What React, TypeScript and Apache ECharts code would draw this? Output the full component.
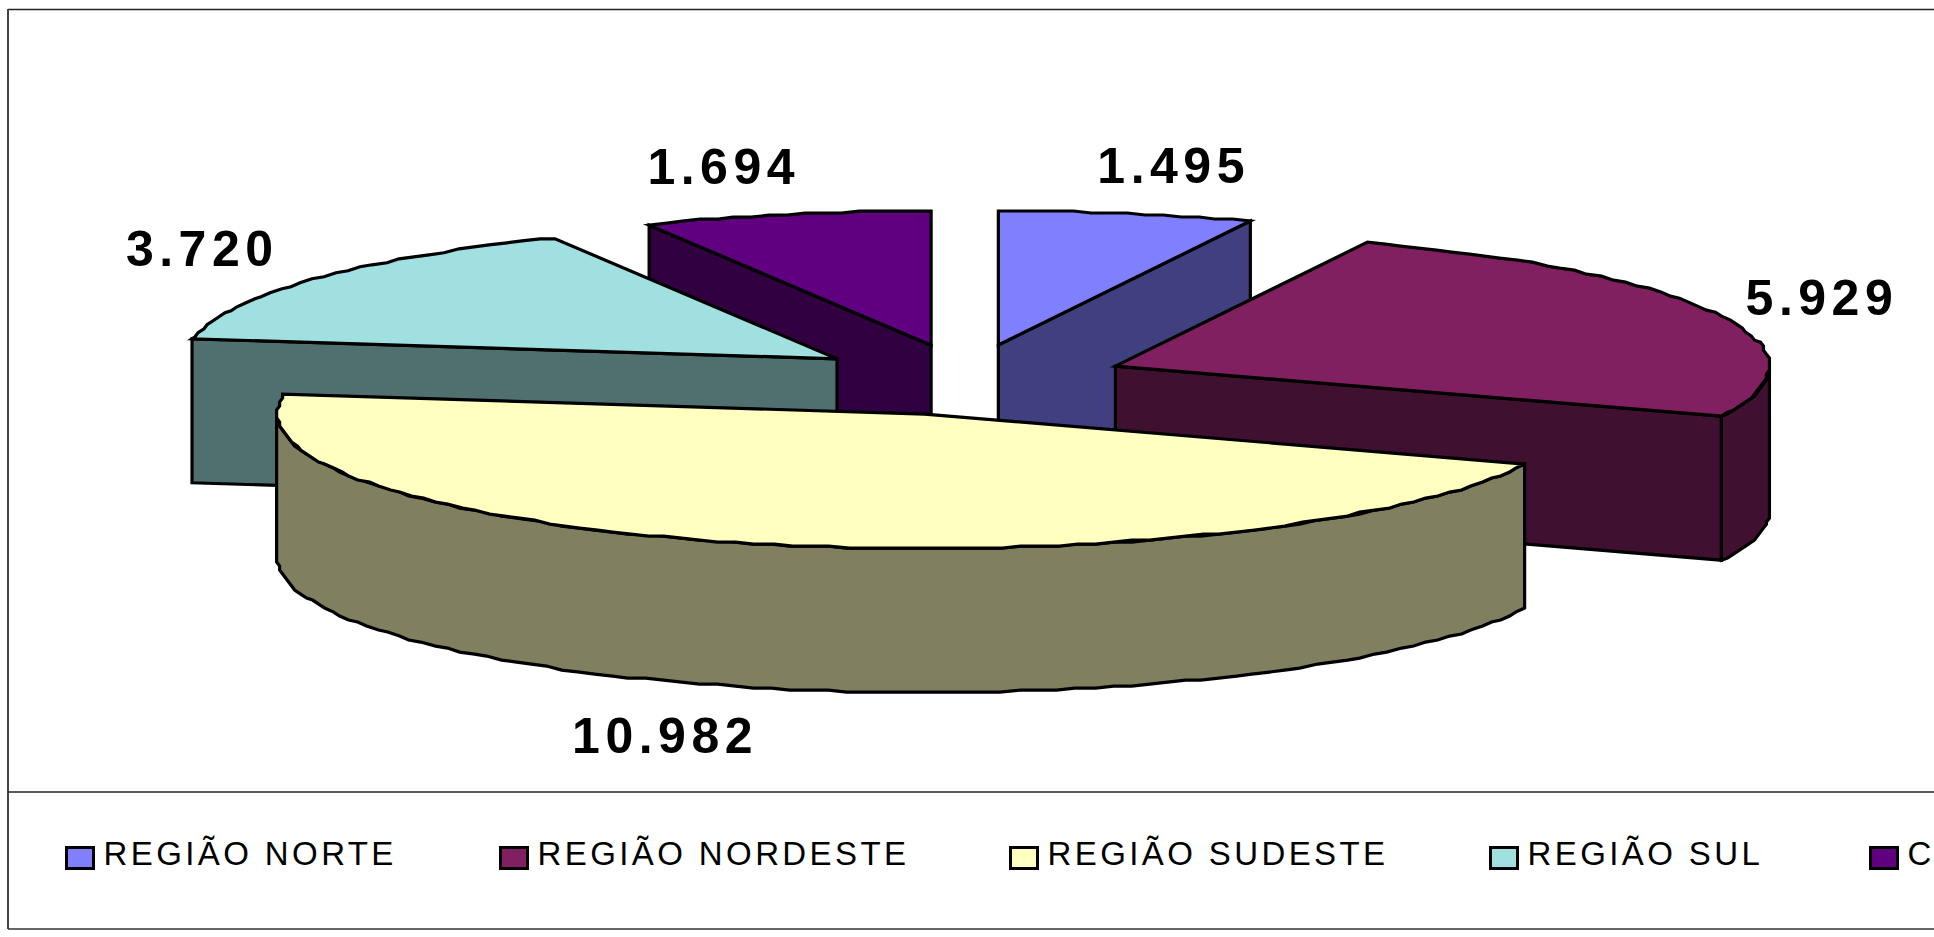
import React, { useEffect, useRef } from "react";
import * as echarts from "echarts";

// ---- data ----
const regions = ["REGIÃO NORTE", "REGIÃO NORDESTE", "REGIÃO SUDESTE", "REGIÃO SUL", "CENTRO-OESTE"];
const values = [1495, 5929, 10982, 3720, 1694];

// ---- styling ----
const topColors = ["#8080FF", "#802060", "#FFFFC0", "#A0E0E0", "#600080"];
const sideColors = ["#404080", "#401030", "#808060", "#507070", "#300040"];
const paintOrder = [1, 3, 5, 4, 2]; // back to front
const radiusScale = [1, 0.998, 0.988, 0.994, 0.995];
const labelNudges = [[47, -48], [103, -17], [-90, 193], [-110, -30], [-63, -48]];
const legendLefts = [65, 499, 1009, 1489, 1869];

const CX = 966.8, CY = 379.8, RX = 655, RY = 134, DEPTH = 144;
const EXPLODE_X = 161, EXPLODE_Y = 35.5;
const GRID_X = 3, GRID_Y = 2, ARC_STEP = 1.7;
const FONT = '"Liberation Sans", Arial, sans-serif';

const total = values.reduce((s, v) => s + v, 0);
const rad = (d: number) => (d * Math.PI) / 180;
const fmt = (v: number) => String(v).replace(/\B(?=(\d{3})+(?!\d))/g, ".");

function sliceRender(index: number) {
  const before = values.slice(0, index).reduce((s, v) => s + v, 0);
  return (_params: any, api: any) => {
    const value = api.value(0) as number;
    const a = (before / total) * 360;
    const b = ((before + value) / total) * 360;
    const mid = (a + b) / 2;
    const ax = CX + EXPLODE_X * Math.sin(rad(mid));
    const ay = CY - EXPLODE_Y * Math.cos(rad(mid));
    const rx = RX * radiusScale[index];
    const rim = (deg: number, dz = 0): number[] => [
      ax + Math.round((rx * Math.sin(rad(deg))) / GRID_X) * GRID_X,
      ay - Math.round((RY * Math.cos(rad(deg))) / GRID_Y) * GRID_Y + dz,
    ];
    const arc = (from: number, to: number, dz = 0) => {
      const pts: number[][] = [];
      const n = Math.max(1, Math.ceil((to - from) / ARC_STEP));
      for (let i = 0; i <= n; i++) pts.push(rim(from + ((to - from) * i) / n, dz));
      return pts;
    };
    const poly = (points: number[][], fill: string) => ({
      type: "polygon",
      shape: { points },
      style: { fill, stroke: "#000", lineWidth: 3.2, lineJoin: "miter" },
    });
    const children: any[] = [];
    const side = sideColors[index];
    if (Math.sin(rad(a)) < -1e-6) {
      children.push(poly([[ax, ay], rim(a), rim(a, DEPTH), [ax, ay + DEPTH]], side));
    }
    if (Math.sin(rad(b)) > 1e-6) {
      children.push(poly([[ax, ay], rim(b), rim(b, DEPTH), [ax, ay + DEPTH]], side));
    }
    const f = Math.max(a, 90), t = Math.min(b, 270);
    if (t > f) {
      children.push(poly([...arc(f, t), ...arc(f, t, DEPTH).reverse()], side));
    }
    children.push(poly([[ax, ay], ...arc(a, b)], topColors[index]));
    const [nx, ny] = labelNudges[index];
    children.push({
      type: "text",
      x: ax + rx * Math.sin(rad(mid)) + nx,
      y: ay - RY * Math.cos(rad(mid)) + ny,
      z2: 10,
      style: {
        text: fmt(value),
        font: `bold 50px ${FONT}`,
        fill: "#000",
        textAlign: "center",
        textVerticalAlign: "middle",
      },
    });
    return { type: "group", children };
  };
}

const frameLine = (x1: number, y1: number, x2: number, y2: number, stroke: string, lineWidth: number) => ({
  type: "line",
  silent: true,
  shape: { x1, y1, x2, y2 },
  style: { stroke, lineWidth },
});

export default function App() {
  const ref = useRef<HTMLDivElement>(null);
  useEffect(() => {
    const chart = echarts.init(ref.current!, undefined, { renderer: "svg" });
    chart.setOption({
      animation: false,
      backgroundColor: "#fff",
      graphic: {
        elements: [
          frameLine(8, 9.5, 2300, 9.5, "#222", 1.5),
          frameLine(8, 9, 8, 929, "#444", 2),
          frameLine(8, 792, 2300, 792, "#222", 1.5),
          frameLine(8, 929, 2300, 929, "#333", 1.5),
        ],
      },
      legend: regions.map((name, i) => ({
        data: [name],
        left: legendLefts[i],
        top: 837,
        padding: 0,
        icon: "rect",
        itemWidth: 27,
        itemHeight: 21,
        selectedMode: false,
        itemStyle: { color: topColors[i], borderColor: "#000", borderWidth: 3 },
        formatter: (n: string) => `{t|${n}}`,
        textStyle: {
          fontFamily: FONT,
          fontSize: 33,
          color: "#000",
          rich: {
            t: { fontFamily: FONT, fontSize: 33, color: "#000", padding: [0, 0, 9, 5] },
          },
        },
      })),
      series: regions.map((name, i) => ({
        type: "custom",
        name,
        coordinateSystem: "none",
        silent: true,
        z: paintOrder[i],
        itemStyle: { color: topColors[i] },
        data: [[values[i]]],
        renderItem: sliceRender(i),
      })),
    });
    return () => chart.dispose();
  }, []);
  return (
    <>
      <style>{`
        html, body { margin: 0; padding: 0; overflow: hidden; background: #fff; }
        #chart-box text { letter-spacing: 3.4px; }
        #chart-box text[style*="bold"] { letter-spacing: 5.5px; }
      `}</style>
      <div id="chart-box" ref={ref} style={{ width: 2300, height: 937 }} />
    </>
  );
}
